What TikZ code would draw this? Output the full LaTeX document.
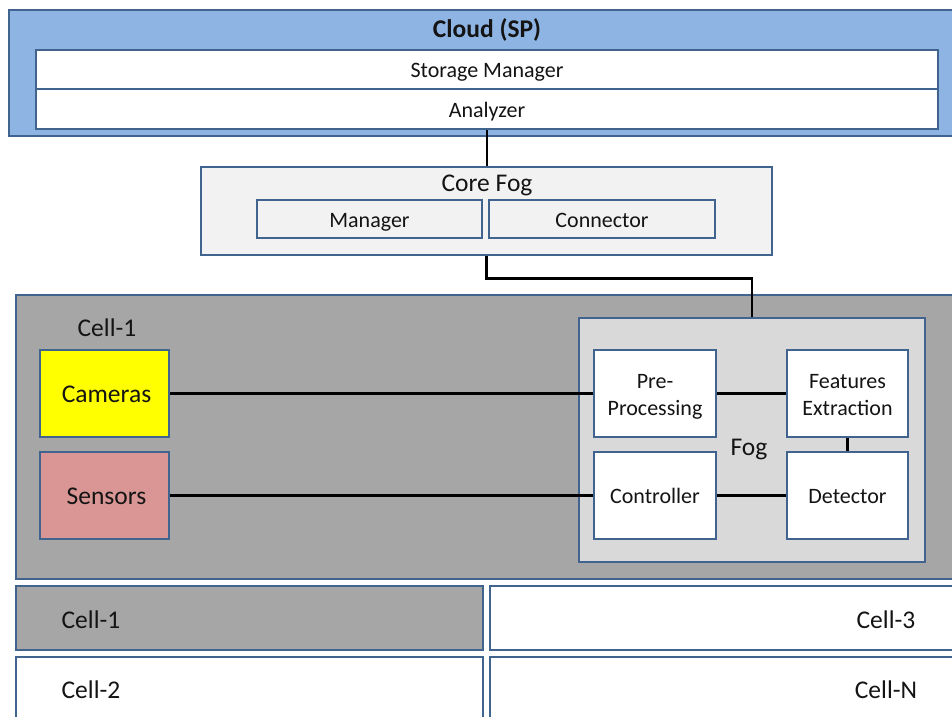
\documentclass[tikz,border=0pt]{standalone}
\usepackage{fontspec}
\setmainfont{Carlito}
\definecolor{bord}{HTML}{41648F}
\definecolor{cloudfill}{HTML}{8EB4E3}
\definecolor{corefill}{HTML}{F2F2F2}
\definecolor{cellfill}{HTML}{A6A6A6}
\definecolor{fogfill}{HTML}{D9D9D9}
\definecolor{sensfill}{HTML}{D99694}
\definecolor{camfill}{HTML}{FFFF00}
\definecolor{txt}{HTML}{141414}
\newcommand\boxtext[1]{\raisebox{-3pt}[\height][\depth]{\begin{tabular}{@{}c@{}}#1\end{tabular}}}
\begin{document}
\begin{tikzpicture}[x=1pt,y=-1pt,
  box/.style={draw=bord, line width=1.6pt, rectangle, inner sep=0pt, align=center, text=txt,
    font=\fontsize{22}{27}\selectfont},
  bigtxt/.style={font=\fontsize{25.5}{30}\selectfont},
  lbl/.style={inner sep=0pt, text=txt, font=\fontsize{25.5}{30}\selectfont},
  wire/.style={line width=2.9pt, black}]
\useasboundingbox (0,0) rectangle (952,716);
\clip (0,0) rectangle (952,716);
% Cloud
\node[box, fill=cloudfill, minimum width=951, minimum height=126] (cloud) at (484.5,73) {};
\node[lbl, font=\bfseries\fontsize{25.5}{30}\selectfont] (cloudtitle) at (487,29.5) {Cloud (SP)};
\node[box, fill=white, minimum width=902, minimum height=39] (storage) at (487,69.5) {\boxtext{Storage Manager}};
\node[box, fill=white, minimum width=902, minimum height=40] (analyzer) at (487,109) {\boxtext{Analyzer}};
% Core fog
\node[box, fill=corefill, minimum width=571, minimum height=88] (corefog) at (486.5,211) {};
\node[lbl] (coretitle) at (487,185) {Core Fog};
\node[box, fill=corefill, minimum width=225, minimum height=38] (manager) at (369.5,219) {\boxtext{Manager}};
\node[box, fill=corefill, minimum width=226, minimum height=38] (connector) at (602,219) {\boxtext{Connector}};
% Cell-1 big
\node[box, fill=cellfill, minimum width=944, minimum height=284] (cellbig) at (488,437) {};
\node[lbl] (celllabel) at (107,328) {Cell-1};
\node[box, bigtxt, fill=camfill, minimum width=129, minimum height=87] (cameras) at (104.5,393.5) {\boxtext{\hspace*{4pt}Cameras}};
\node[box, bigtxt, fill=sensfill, minimum width=129, minimum height=87] (sensors) at (104.5,495.5) {\boxtext{\hspace*{4pt}Sensors}};
\node[box, fill=fogfill, minimum width=346, minimum height=244] (fog) at (752,440) {};
\node[lbl] (foglabel) at (749,449) {Fog};
\node[box, fill=white, minimum width=122, minimum height=87] (pre) at (655,393.5) {\boxtext{Pre-\\Processing}};
\node[box, fill=white, minimum width=121, minimum height=87] (feat) at (847.5,393.5) {\boxtext{Features\\Extraction}};
\node[box, fill=white, minimum width=122, minimum height=87] (ctrl) at (655,495.5) {\boxtext{Controller}};
\node[box, fill=white, minimum width=121, minimum height=87] (det) at (847.5,495.5) {\boxtext{Detector}};
% bottom cells
\node[box, fill=cellfill, minimum width=467, minimum height=64] (cA) at (249.5,618) {};
\node[box, fill=white, minimum width=470, minimum height=64] (cC) at (725,618) {};
\node[box, fill=white, minimum width=467, minimum height=63] (cB) at (249.5,688.5) {};
\node[box, fill=white, minimum width=470, minimum height=63] (cN) at (725,688.5) {};
\node[lbl] (cAl) at (91,620) {Cell-1};
\node[lbl] (cCl) at (886,620) {Cell-3};
\node[lbl] (cBl) at (91,690) {Cell-2};
\node[lbl] (cNl) at (886,690) {Cell-N};
% wires
\draw[wire] (analyzer.south) -- (analyzer.south |- corefog.north);
\draw[wire] (corefog.south) -- ++(0,23) -| (fog.north);
\draw[wire] (cameras.east) -- (pre.west);
\draw[wire] (sensors.east) -- (ctrl.west);
\draw[wire] (pre.east) -- (feat.west);
\draw[wire] (ctrl.east) -- (det.west);
\draw[wire] (feat.south) -- (det.north);
\end{tikzpicture}
\end{document}
